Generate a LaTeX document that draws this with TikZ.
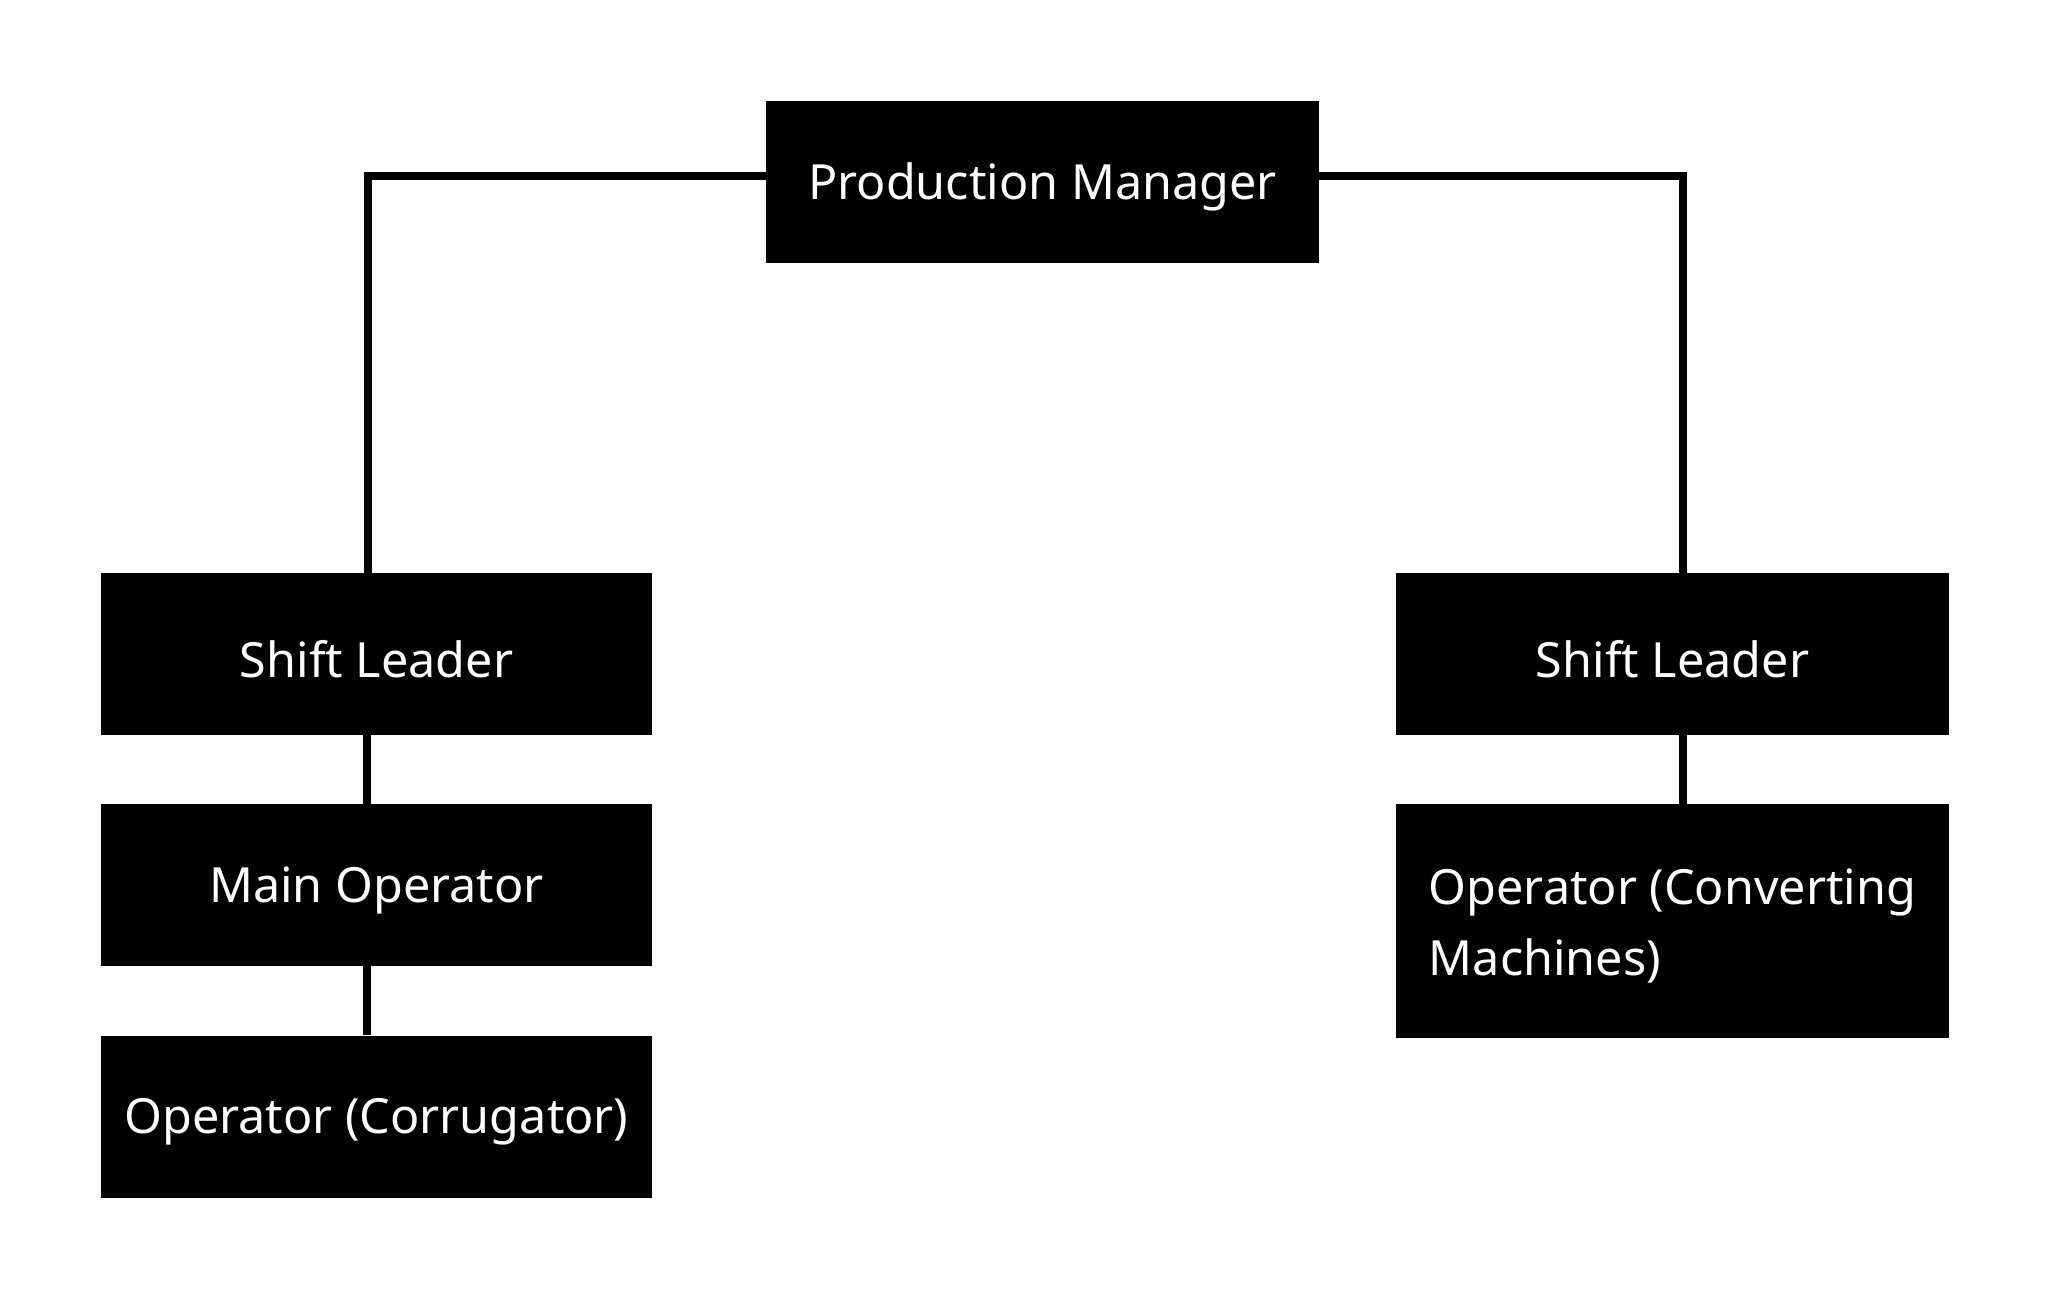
\documentclass[tikz,border=0pt]{standalone}
\usepackage{fontspec}
\setmainfont{Noto Sans}
\newcommand\boxtext[1]{\raisebox{-5pt}[\height][\depth]{#1}}
\begin{document}
\begin{tikzpicture}[x=1pt,y=-1pt,
  box/.style={fill=black,text=white,minimum width=553pt,minimum height=162pt,inner sep=0pt,align=left,
    font=\fontsize{48.5}{71}\selectfont},
  link/.style={line width=8pt,black,line join=miter}]
\useasboundingbox (0,0) rectangle (2050,1300);
\fill[white] (0,0) rectangle (2050,1300);
\node[box] (pm) at (1042.5,182) {\boxtext{Production Manager}};
\node[box,minimum width=551pt] (sl1) at (376.5,654) {\boxtext{Shift Leader}};
\node[box,minimum width=551pt] (mo) at (376.5,885) {\boxtext{Main Operator}};
\node[box,minimum width=551pt] (oc) at (376.5,1116.5) {\boxtext{Operator (Corrugator)}};
\node[box] (sl2) at (1672.5,654) {\boxtext{Shift Leader}};
\node[box,minimum height=234pt] (ocm) at (1672.5,921) {\boxtext{\begin{tabular}{@{}l@{}}Operator (Converting\\Machines)\end{tabular}}};
\draw[link] ([yshift=6pt]pm.west) -| ([xshift=-8.5pt]sl1.north);
\draw[link] ([yshift=6pt]pm.east) -| ([xshift=10.5pt]sl2.north);
\draw[link] ([xshift=-9.5pt]sl1.south) -- ([xshift=-9.5pt]mo.north);
\draw[link] ([xshift=-9.5pt]mo.south) -- ([xshift=-9.5pt]oc.north);
\draw[link] ([xshift=10.5pt]sl2.south) -- ([xshift=10.5pt]ocm.north);
\end{tikzpicture}
\end{document}
